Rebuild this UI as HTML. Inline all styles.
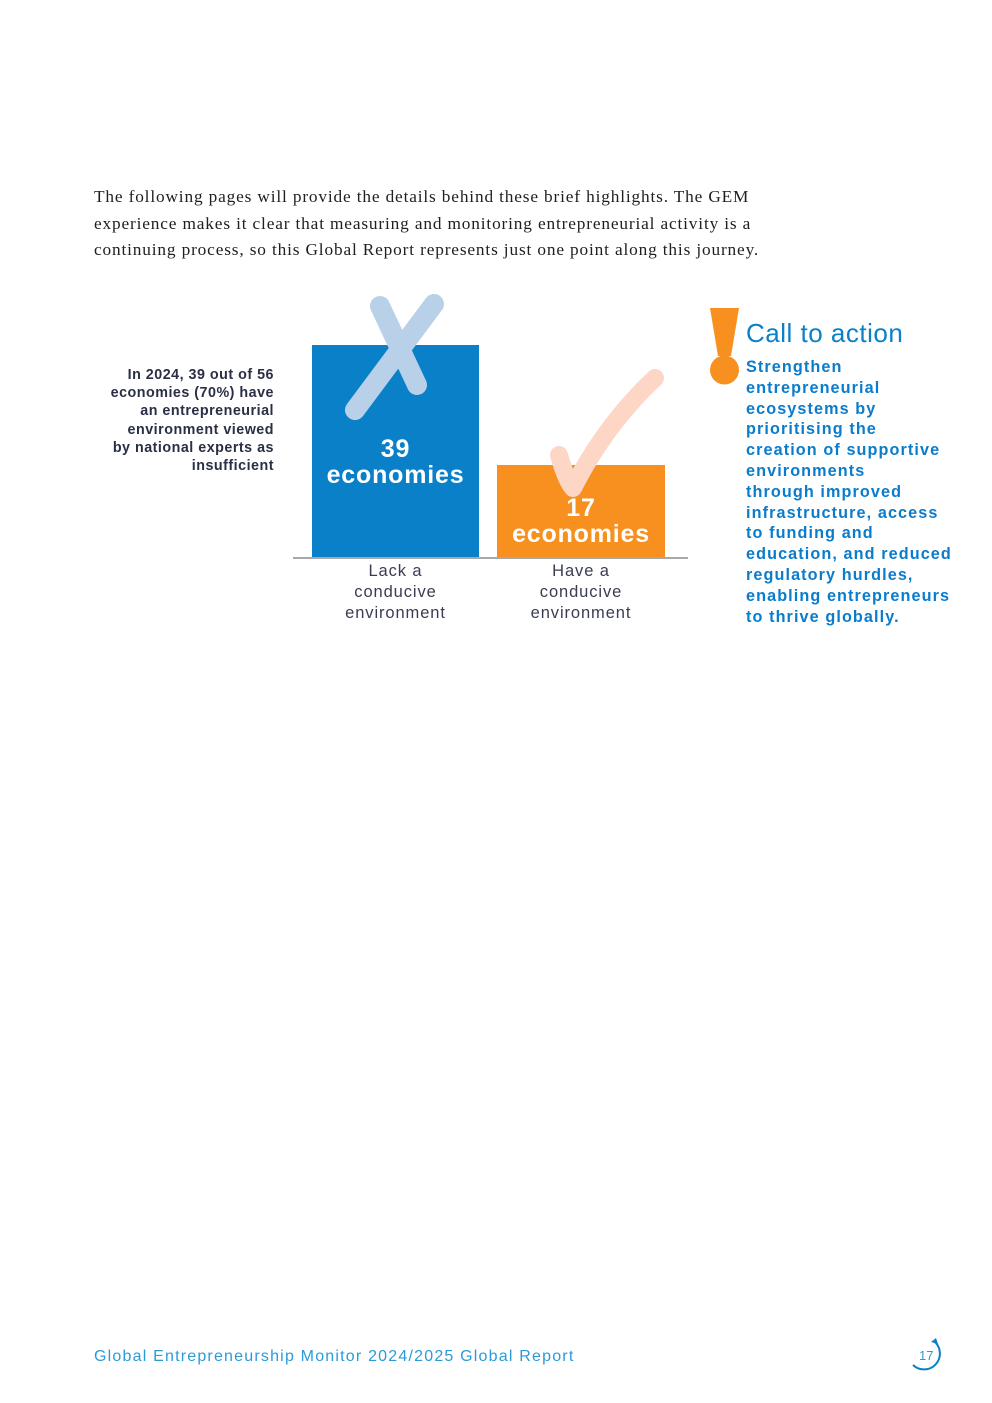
<!DOCTYPE html>
<html><head><meta charset="utf-8"><style>
body{margin:0;width:992px;height:1403px;background:#fff;position:relative;overflow:hidden}
div{position:absolute}
.s{font-family:"Liberation Sans",sans-serif}
</style></head><body>
<div style="left:94px;top:184px;width:760px;font-family:'Liberation Serif',serif;font-size:17.3px;line-height:26.5px;color:#1f1f1f;letter-spacing:0.85px;white-space:nowrap">The following pages will provide the details behind these brief highlights. The GEM<br>experience makes it clear that measuring and monitoring entrepreneurial activity is a<br>continuing process, so this Global Report represents just one point along this journey.</div>

<div class="s" style="left:40px;top:366px;width:234px;text-align:right;font-size:14.3px;font-weight:bold;line-height:18.2px;color:#2a2f45;letter-spacing:0.5px;white-space:nowrap">In 2024, 39 out of 56<br>economies (70%) have<br>an entrepreneurial<br>environment viewed<br>by national experts as<br>insufficient</div>

<div style="left:312px;top:345px;width:167px;height:213px;background:#0a80c8"></div>
<div style="left:497px;top:465px;width:168px;height:93px;background:#f7901e"></div>
<div style="left:293px;top:557px;width:395px;height:2px;background:#a8a8a8"></div>

<svg style="position:absolute;left:0;top:0" width="992" height="700">
<path d="M380 306 L417 385 M434 304 L355 410" stroke="#b8d1e8" stroke-width="20" stroke-linecap="round" fill="none"/>
</svg>

<div class="s" style="left:312px;top:436px;width:167px;text-align:center;color:#fff;font-weight:bold;font-size:25px;line-height:26px;letter-spacing:0.8px">39<br>economies</div>
<div class="s" style="left:497px;top:495px;width:168px;text-align:center;color:#fff;font-weight:bold;font-size:25px;line-height:26px;letter-spacing:0.8px">17<br>economies</div>

<svg style="position:absolute;left:0;top:0" width="992" height="700">
<path d="M559 455 Q566 480 573 488 Q605 425 655 378" stroke="#fdd6c6" stroke-width="18" stroke-linecap="round" stroke-linejoin="round" fill="none"/>
<path d="M710 308 L739 308 L731 356 L718 356 Z" fill="#f7901e"/>
<circle cx="724.5" cy="370" r="14.5" fill="#f7901e"/>
</svg>

<div class="s" style="left:292px;top:561px;width:207px;text-align:center;color:#3a3d52;font-size:16.5px;line-height:21px;letter-spacing:0.9px">Lack a<br>conducive<br>environment</div>
<div class="s" style="left:477px;top:561px;width:208px;text-align:center;color:#3a3d52;font-size:16.5px;line-height:21px;letter-spacing:0.9px">Have a<br>conducive<br>environment</div>

<div class="s" style="left:746px;top:318px;font-size:26px;color:#0a80c8;letter-spacing:0.5px">Call to action</div>
<div class="s" style="left:746px;top:357px;width:240px;font-size:16.2px;font-weight:bold;line-height:20.8px;color:#0a7ccc;letter-spacing:1.1px;white-space:nowrap">Strengthen<br>entrepreneurial<br>ecosystems by<br>prioritising the<br>creation of supportive<br>environments<br>through improved<br>infrastructure, access<br>to funding and<br>education, and reduced<br>regulatory hurdles,<br>enabling entrepreneurs<br>to thrive globally.</div>

<div class="s" style="left:94px;top:1348px;font-size:16px;color:#2a9bd8;letter-spacing:1.2px;white-space:nowrap">Global Entrepreneurship Monitor 2024/2025 Global Report</div>
<svg style="position:absolute;left:905px;top:1335px" width="45" height="45">
<path d="M30 7 A14 14 0 1 1 8 30" stroke="#0a80c8" stroke-width="2" fill="none"/>
<path d="M26 7 L31 3 L33 9 Z" fill="#0a80c8"/>
<text x="14" y="25" font-family="Liberation Sans,sans-serif" font-size="13" fill="#2a9bd8">17</text>
</svg>
</body></html>
